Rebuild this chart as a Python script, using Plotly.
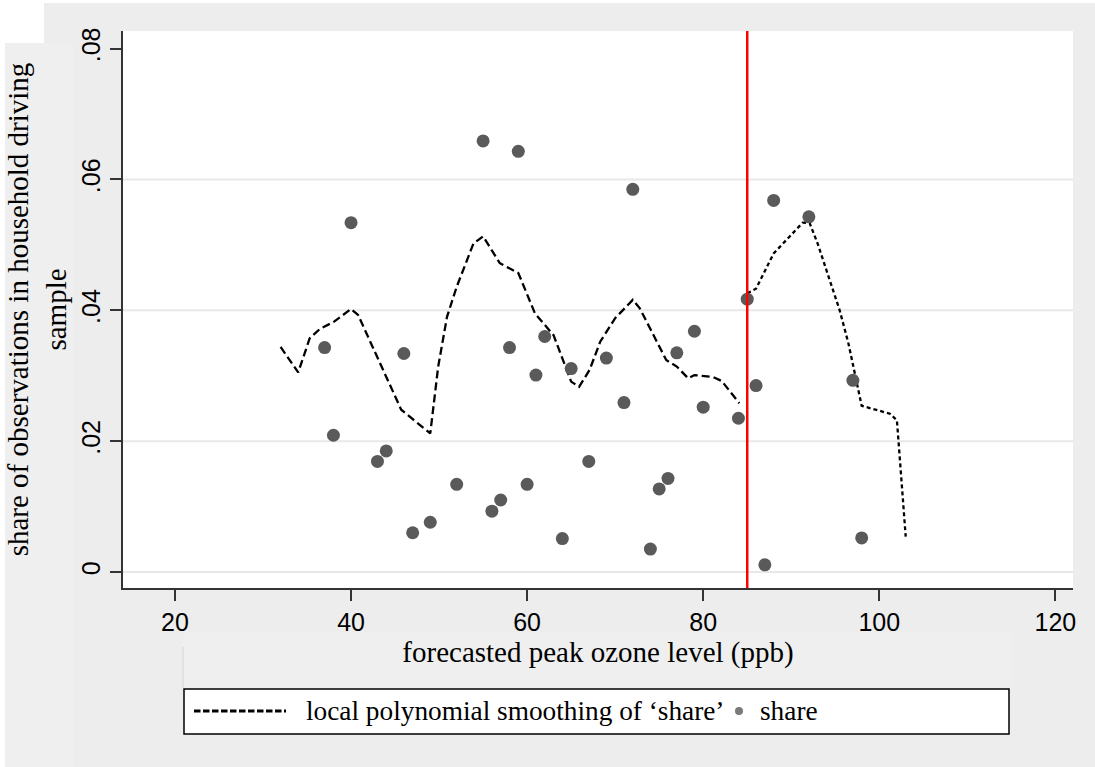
import plotly.graph_objects as go

# ---- data ----
ozone = [37, 38, 40, 43, 44, 46, 47, 49, 52, 55, 56, 57, 58, 59, 60, 61, 62, 64, 65,
         67, 69, 71, 72, 74, 75, 76, 77, 79, 80, 84, 85, 86, 87, 88, 92, 97, 98]
share = [0.0343, 0.0209, 0.0534, 0.0169, 0.0185, 0.0334, 0.0060, 0.0076, 0.0134, 0.0659,
         0.0093, 0.0110, 0.0343, 0.0643, 0.0134, 0.0301, 0.0360, 0.0051, 0.0311, 0.0169,
         0.0327, 0.0259, 0.0585, 0.0035, 0.0127, 0.0143, 0.0335, 0.0368, 0.0252, 0.0235,
         0.0417, 0.0285, 0.0011, 0.0568, 0.0543, 0.0293, 0.0052]

smooth_left_x = [32, 34, 35.3, 36.5, 38, 40, 40.8, 42, 43.7, 45.7, 47.8, 49, 49.9, 50.9,
                 52, 53.9, 55, 56.9, 59, 60.9, 63, 65, 65.9, 67.1, 68.3, 70, 72, 72.8,
                 75.8, 77, 78.3, 79, 81.1, 82.1, 84.1]
smooth_left_y = [0.0344, 0.0305, 0.0357, 0.0372, 0.0382, 0.0402, 0.0393, 0.0357, 0.0306,
                 0.0248, 0.0225, 0.0212, 0.0314, 0.0390, 0.0436, 0.0502, 0.0513, 0.0472,
                 0.0457, 0.0395, 0.0362, 0.0291, 0.0283, 0.0309, 0.0352, 0.0388, 0.0416,
                 0.0403, 0.0324, 0.0314, 0.0296, 0.0301, 0.0298, 0.0292, 0.0258]

smooth_right_x = [85, 86, 88, 89.8, 91.3, 92.1, 93, 95.5, 96.5, 98, 101.2, 102, 103]
smooth_right_y = [0.0426, 0.0433, 0.0487, 0.0512, 0.0534, 0.0533, 0.0502, 0.0400,
                  0.0349, 0.0254, 0.0242, 0.0232, 0.0054]

CUTOFF = 85
x_ticks = [20, 40, 60, 80, 100, 120]
y_ticks = [0, 0.02, 0.04, 0.06, 0.08]
y_ticktext = ["0", ".02", ".04", ".06", ".08"]
grid_y = [0, 0.02, 0.04, 0.06]

x_title = "forecasted peak ozone level (ppb)"
y_title = "share of observations in household driving<br>sample"
legend_line_label = "local polynomial smoothing of \u2018share\u2019"
legend_dot_label = "share"

SERIF = "Liberation Serif, Times New Roman, serif"
SANS = "Liberation Sans, Arial, sans-serif"

# ---- figure ----
fig = go.Figure()

fig.add_trace(go.Scatter(x=smooth_left_x, y=smooth_left_y, mode="lines",
                         line=dict(color="black", width=2.3, dash="8px,4px"),
                         showlegend=False, hoverinfo="skip"))
fig.add_trace(go.Scatter(x=smooth_right_x, y=smooth_right_y, mode="lines",
                         line=dict(color="black", width=2.3, dash="4px,3px"),
                         showlegend=False, hoverinfo="skip"))
fig.add_trace(go.Scatter(x=ozone, y=share, mode="markers",
                         marker=dict(color="#5a5a5a", size=13),
                         showlegend=False))

# red cutoff line
fig.add_shape(type="line", xref="x", yref="y domain", x0=CUTOFF, x1=CUTOFF, y0=0, y1=1,
              line=dict(color="#ff0000", width=2.5), layer="above")

# horizontal gridlines (none at the top tick)
for g in grid_y:
    fig.add_shape(type="line", xref="x domain", yref="y", x0=0, x1=1, y0=g, y1=g,
                  line=dict(color="#e8e8e8", width=2), layer="below")

# ---- background decorations in paper coords ----
W, H = 1095, 767
L, R, T, B = 123, 22, 31, 179
pw, ph = W - L - R, H - T - B


def px(xp):
    return (xp - L) / pw


def py(yp):
    return (H - B - yp) / ph


deco = [
    # white page strips / corner
    dict(x0=0, x1=5, y0=0, y1=H, fill="white"),
    dict(x0=0, x1=W, y0=0, y1=3, fill="white"),
    dict(x0=0, x1=44, y0=0, y1=43, fill="white"),
    # slightly lighter boxes for the axis titles
    dict(x0=5, x1=73, y0=43, y1=H, fill="#efefef"),
    dict(x0=183, x1=1012, y0=633, y1=689, fill="#efefef"),
]
for d in deco:
    fig.add_shape(type="rect", xref="paper", yref="paper",
                  x0=px(d["x0"]), x1=px(d["x1"]), y0=py(d["y1"]), y1=py(d["y0"]),
                  fillcolor=d["fill"], line=dict(width=0), layer="below")
fig.add_shape(type="line", xref="paper", yref="paper", x0=px(183), x1=px(183),
              y0=py(688), y1=py(647), line=dict(color="#d4d4d4", width=1), layer="below")

# ---- legend (drawn box) ----
fig.add_shape(type="rect", xref="paper", yref="paper",
              x0=px(184), x1=px(1009), y0=py(734), y1=py(689),
              fillcolor="white", line=dict(color="black", width=1.5), layer="above")
fig.add_shape(type="line", xref="paper", yref="paper",
              x0=px(194), x1=px(286), y0=py(711), y1=py(711),
              line=dict(color="black", width=3, dash="6.5px,2.5px"), layer="above")
fig.add_shape(type="circle", xref="paper", yref="paper",
              x0=px(735), x1=px(743), y0=py(715), y1=py(707),
              fillcolor="#7a7a7a", line=dict(width=0), layer="above")
fig.add_annotation(xref="paper", yref="paper", x=px(304), y=py(711),
                   xanchor="left", yanchor="middle", showarrow=False,
                   text=legend_line_label, font=dict(family=SERIF, size=27.3, color="black"))
fig.add_annotation(xref="paper", yref="paper", x=px(758), y=py(711),
                   xanchor="left", yanchor="middle", showarrow=False,
                   text=legend_dot_label, font=dict(family=SERIF, size=27.3, color="black"))

fig.update_layout(
    width=W, height=H,
    margin=dict(l=L, r=R, t=T, b=B, pad=0),
    paper_bgcolor="#ededed",
    plot_bgcolor="white",
    showlegend=False,
    font=dict(family=SANS, color="black"),
)

fig.update_xaxes(
    range=[14.1, 122], tickvals=x_ticks, showgrid=False, zeroline=False,
    showline=True, linecolor="#333333", linewidth=1.5,
    ticks="outside", ticklen=11, tickwidth=1.5, tickcolor="#333333",
    tickfont=dict(family=SANS, size=25, color="black"),
    title=dict(text=x_title, font=dict(family=SERIF, size=29, color="black"), standoff=4),
)
fig.update_yaxes(
    range=[-0.00245, 0.0827], tickvals=y_ticks, ticktext=y_ticktext, tickangle=-90,
    showgrid=False, zeroline=False,
    showline=True, linecolor="#333333", linewidth=1.5,
    ticks="outside", ticklen=11, tickwidth=1.5, tickcolor="#333333",
    tickfont=dict(family=SANS, size=25, color="black"),
    title=dict(text=y_title, font=dict(family=SERIF, size=29, color="black"), standoff=2),
)

fig.write_html("out.html")
